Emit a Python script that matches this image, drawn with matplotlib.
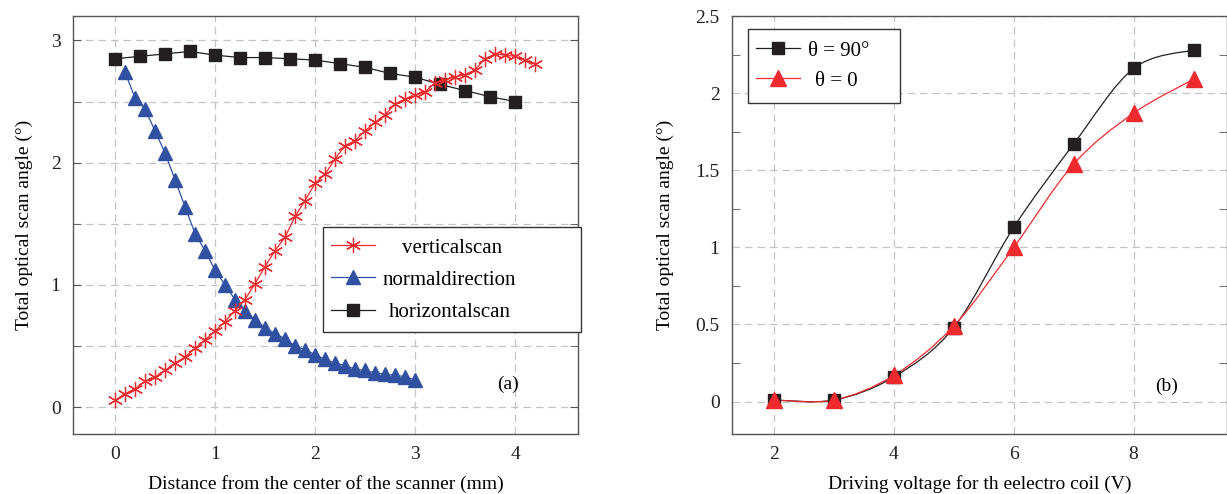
import matplotlib
matplotlib.use("Agg")
import matplotlib.pyplot as plt
import numpy as np
from matplotlib.path import Path
from matplotlib.patches import PathPatch, Rectangle
from matplotlib.lines import Line2D
from matplotlib.ticker import MultipleLocator, FixedLocator, FixedFormatter

plt.rcParams["font.family"] = ["Liberation Serif", "DejaVu Serif"]
plt.rcParams["font.size"] = 14

# panel (a)
vert_x = [round(0.1 * i, 1) for i in range(43)]
vert_y = [0.055, 0.11, 0.15, 0.21, 0.245, 0.30, 0.36, 0.41, 0.48, 0.55,
          0.62, 0.70, 0.79, 0.88, 1.01, 1.15, 1.28, 1.39, 1.56, 1.69,
          1.83, 1.905, 2.03, 2.14, 2.18, 2.26, 2.33, 2.39, 2.48, 2.52,
          2.55, 2.58, 2.65, 2.68, 2.70, 2.72, 2.76, 2.85, 2.89, 2.88,
          2.87, 2.84, 2.81]
norm_x = [round(0.1 * i, 1) for i in range(1, 31)]
norm_y = [2.74, 2.53, 2.44, 2.26, 2.08, 1.86, 1.64, 1.42, 1.28, 1.12,
          1.00, 0.88, 0.79, 0.71, 0.65, 0.60, 0.56, 0.50, 0.47, 0.43,
          0.39, 0.36, 0.34, 0.31, 0.30, 0.28, 0.27, 0.26, 0.25, 0.22]
horiz_x = [0.25 * i for i in range(17)]
horiz_y = [2.85, 2.87, 2.89, 2.91, 2.88, 2.86, 2.86, 2.85, 2.84, 2.81,
           2.78, 2.73, 2.70, 2.64, 2.59, 2.54, 2.50]

# panel (b)
volt = [2, 3, 4, 5, 6, 7, 8, 9]
theta90 = [0.01, 0.01, 0.16, 0.48, 1.13, 1.67, 2.16, 2.28]
theta0 = [0.01, 0.01, 0.17, 0.49, 1.00, 1.54, 1.87, 2.09]

RED = "#ee2a2f"
BLUE = "#3050a2"
BLACK = "#231f20"
GRID = "#c4c4c4"
SPINE = "#555555"
W, H = 1227, 494


def smooth_path(xs, ys):
    # cubic bezier segments through the points (catmull-rom style)
    p = np.column_stack([xs, ys]).astype(float)
    verts = [p[0]]
    codes = [Path.MOVETO]
    n = len(p)
    for i in range(n - 1):
        p0 = p[max(i - 1, 0)]
        p1 = p[i]
        p2 = p[i + 1]
        p3 = p[min(i + 2, n - 1)]
        c1 = p1 + (p2 - p0) / 6.0
        c2 = p2 - (p3 - p1) / 6.0
        verts += [c1, c2, p2]
        codes += [Path.CURVE4] * 3
    return Path(verts, codes)


def style_axes(ax):
    for s in ax.spines.values():
        s.set_color(SPINE)
        s.set_linewidth(1.0)
    ax.tick_params(which="both", direction="in", right=True, color=SPINE,
                   labelcolor="#231f20", pad=9, length=6)
    ax.set_axisbelow(True)


def legend_box(fig, x0, y0, x1, y1):
    # frame drawn in figure pixels (top-left origin)
    fig.patches.append(Rectangle((x0 / W, 1 - y1 / H), (x1 - x0) / W,
                                 (y1 - y0) / H, transform=fig.transFigure,
                                 facecolor="white", edgecolor="#333333",
                                 lw=1.0, zorder=9))


def place_texts(fig, leg, centers=None, starts=None):
    fig.canvas.draw()
    r = fig.canvas.get_renderer()
    for i, t in enumerate(leg.get_texts()):
        bb = t.get_window_extent(r)
        if centers is not None:
            dx = centers[i] - (bb.x0 + bb.x1) / 2.0
        else:
            dx = starts[i] - bb.x0
        t.set_position((dx, 0))


fig = plt.figure(figsize=(12.27, 4.94), dpi=100)
ax1 = fig.add_axes([0.0595, 0.1215, 0.4116, 0.8461])
ax2 = fig.add_axes([0.5966, 0.1215, 0.4030, 0.8461])

grid_kw = dict(color=GRID, linewidth=0.9, linestyle=(0, (6, 4)))
leg_kw = dict(frameon=False, handlelength=2.1, handletextpad=0.5,
              borderpad=0, borderaxespad=0, fontsize=15)

# ---- panel (a)
style_axes(ax1)
ax1.set_xlim(-0.42, 4.63)
ax1.set_ylim(-0.22, 3.2)
ax1.xaxis.set_major_locator(MultipleLocator(1))
ax1.yaxis.set_major_locator(MultipleLocator(1))
ax1.yaxis.set_minor_locator(FixedLocator([0.5, 1.5, 2.5]))
ax1.tick_params(axis="x", which="both", length=0)
ax1.grid(True, which="major", **grid_kw)
ax1.grid(True, which="minor", axis="y", **grid_kw)

ax1.plot(horiz_x, horiz_y, color=BLACK, lw=0.9, marker="s", ms=8.5,
         mec=BLACK, mfc=BLACK, label="horizontalscan", zorder=3)
ax1.plot(norm_x, norm_y, color=BLUE, lw=0.9, marker="^", ms=10,
         mec=BLUE, mfc=BLUE, label="normaldirection", zorder=3)
ax1.plot(vert_x, vert_y, color=RED, lw=0.9, marker=(6, 2, 0), ms=11,
         mew=0.9, mec=RED, label="verticalscan", zorder=4)

legend_box(fig, 323, 227, 581, 332)
h, l = ax1.get_legend_handles_labels()
leg1 = fig.legend(h[::-1], l[::-1], loc="center left",
                  bbox_to_anchor=(331 / W, 1 - 280 / H),
                  labelspacing=0.6, **leg_kw)
leg1.set_zorder(10)

ax1.text(3.93, 0.19, "(a)", ha="center", va="center")
ax1.set_xlabel("Distance from the center of the scanner (mm)", labelpad=8)
ax1.set_ylabel("Total optical scan angle (°)", labelpad=13)

# ---- panel (b)
style_axes(ax2)
ax2.set_xlim(1.3, 9.55)
ax2.set_ylim(-0.21, 2.5)
ax2.xaxis.set_major_locator(MultipleLocator(2))
ax2.yaxis.set_major_locator(FixedLocator([-0.5, 0, 0.5, 1, 1.5, 2, 2.5]))
ax2.yaxis.set_major_formatter(FixedFormatter(["", "0", "0.5", "1", "1.5", "2", "2.5"]))
ax2.yaxis.set_minor_locator(FixedLocator([0.25, 0.75, 1.25, 1.75, 2.25]))
ax2.tick_params(axis="x", which="both", length=0)
ax2.tick_params(axis="y", which="major", length=0)
ax2.grid(True, which="major", **grid_kw)

for ys, c in ((theta90, BLACK), (theta0, RED)):
    ax2.add_patch(PathPatch(smooth_path(volt, ys), facecolor="none",
                            edgecolor=c, lw=0.9, zorder=3))
ax2.plot(volt, theta90, ls="none", marker="s", ms=8.5, color=BLACK, zorder=4)
ax2.plot(volt, theta0, ls="none", marker="^", ms=11, color=RED, zorder=5)

legend_box(fig, 748, 29, 900, 103)
hb = [Line2D([], [], color=BLACK, lw=0.9, marker="s", ms=8.5),
      Line2D([], [], color=RED, lw=0.9, marker="^", ms=11)]
leg2 = fig.legend(hb, ["θ = 90°", "θ = 0"], loc="center left",
                  bbox_to_anchor=(756 / W, 1 - 66 / H),
                  labelspacing=0.5, **leg_kw)
leg2.set_zorder(10)

ax2.text(8.55, 0.10, "(b)", ha="center", va="center")
ax2.set_xlabel("Driving voltage for th eelectro coil (V)", labelpad=8)
ax2.set_ylabel("Total optical scan angle (°)", labelpad=15)

place_texts(fig, leg1, centers=[452, 449, 450])
place_texts(fig, leg2, starts=[808, 815])

fig.savefig("out.png", dpi=100)
plt.close(fig)
